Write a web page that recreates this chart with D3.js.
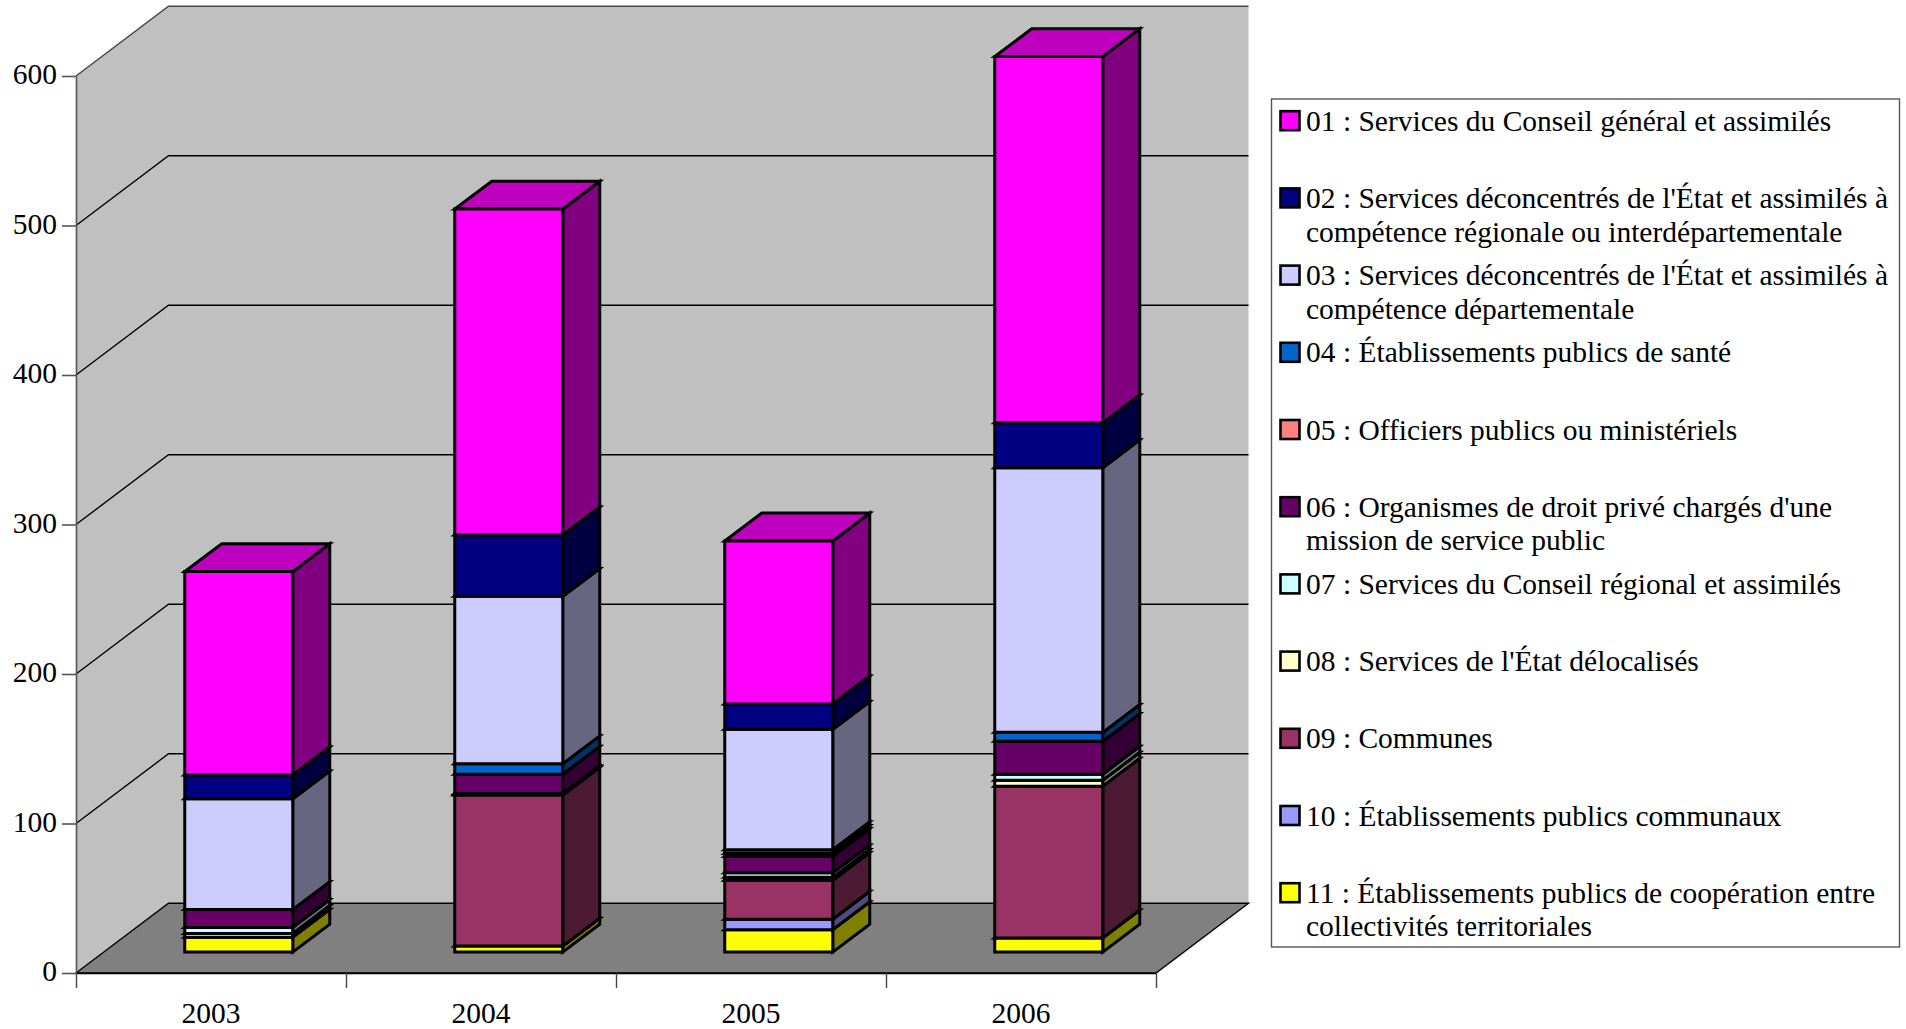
<!DOCTYPE html>
<html>
<head>
<meta charset="utf-8">
<script src="https://cdn.jsdelivr.net/npm/d3@7"></script>
<style>
html, body { margin: 0; padding: 0; background: #fff; }
svg { display: block; }
text { font-family: "Liberation Serif", serif; fill: #000; }
</style>
</head>
<body>
<svg id="chart" width="1906" height="1029"></svg>
<script>
// data
var years = ["2003", "2004", "2005", "2006"];
var yTicks = [0, 100, 200, 300, 400, 500, 600];

var codes = ["01", "02", "03", "04", "05", "06", "07", "08", "09", "10", "11"];
var colors = ["#ff00ff", "#000080", "#ccccff", "#0066cc", "#ff8080", "#660066", "#ccffff", "#ffffcc", "#993366", "#9999ff", "#ffff00"];
var legendLines = [
    ["01 : Services du Conseil général et assimilés"],
    ["02 : Services déconcentrés de l'État et assimilés à", "compétence régionale ou interdépartementale"],
    ["03 : Services déconcentrés de l'État et assimilés à", "compétence départementale"],
    ["04 : Établissements publics de santé"],
    ["05 : Officiers publics ou ministériels"],
    ["06 : Organismes de droit privé chargés d'une", "mission de service public"],
    ["07 : Services du Conseil régional et assimilés"],
    ["08 : Services de l'État délocalisés"],
    ["09 : Communes"],
    ["10 : Établissements publics communaux"],
    ["11 : Établissements publics de coopération entre", "collectivités territoriales"]
];

// one value per year, same order as years
var s01 = [136, 218, 109, 245];
var s02 = [16, 41, 17, 30];
var s03 = [74, 112, 80.5, 177];
var s04 = [0, 7, 2.5, 6];
var s05 = [0, 0, 2, 0];
var s06 = [12, 13, 11, 22];
var s07 = [4, 0.5, 3, 4];
var s08 = [2.5, 0.5, 2, 4];
var s09 = [0, 101, 26, 101.5];
var s10 = [0, 0, 7, 0];
var s11 = [10, 4, 15, 9.5];
var series = [s01, s02, s03, s04, s05, s06, s07, s08, s09, s10, s11];

// layout of the 3d box
var left = 76, right = 1156, floorY = 973, topY = 76;
var depthX = 92.5, depthY = 69.7;

var svg = d3.select("#chart");
var x = d3.scaleBand().domain(years).range([left, right]).paddingInner(0.6).paddingOuter(0.3);
var xLabel = d3.scaleBand().domain(years).range([left, right]);
var xEdge = d3.scaleLinear().domain([0, 4]).range([left, right]);
var y = d3.scaleLinear().domain([0, 600]).range([floorY, topY]);
var z = d3.scaleLinear().domain([0, 1]).range([0, 1]);

function pt(px, py, pz) {
    return [px + z(pz) * depthX, py - z(pz) * depthY];
}
function poly(sel, pts, fill, stroke, sw) {
    return sel.append("polygon")
        .attr("points", pts.map(function (p) { return p.join(","); }).join(" "))
        .attr("fill", fill)
        .attr("stroke", stroke)
        .attr("stroke-width", sw)
        .attr("stroke-linejoin", "miter");
}

// walls
var box = svg.append("g");
poly(box, [pt(left, y(600), 0), pt(left, y(600), 1), pt(right, y(600), 1), pt(right, y(0), 1), pt(left, y(0), 1), pt(left, y(0), 0)], "#c0c0c0", "none", 0);

// grid lines
yTicks.forEach(function (t) {
    if (t == 0) return;
    var a = pt(left, y(t), 0), b = pt(left, y(t), 1), c = pt(right, y(t), 1);
    box.append("polyline")
        .attr("points", [a, b, c].map(function (p) { return p.join(","); }).join(" "))
        .attr("fill", "none")
        .attr("stroke", t == 600 ? "#444" : "#000")
        .attr("stroke-width", 1.4);
});

// floor
poly(box, [pt(left, y(0), 0), pt(right, y(0), 0), pt(right, y(0), 1), pt(left, y(0), 1)], "#808080", "#000", 1.4);

// axes
var yAxis = svg.append("g")
    .attr("transform", "translate(" + left + ",0)")
    .call(d3.axisLeft(y).tickValues(yTicks).tickSize(14).tickPadding(5).tickSizeOuter(0));
yAxis.select(".domain").attr("stroke", "#555").attr("stroke-width", 1.6);
yAxis.selectAll(".tick line").attr("stroke", "#555").attr("stroke-width", 1.6);
yAxis.selectAll(".tick text").style("font-size", "29.5px").style("font-family", "'Liberation Serif', serif").attr("dy", "0.27em");

var xAxisMarks = svg.append("g")
    .attr("transform", "translate(0," + floorY + ")")
    .call(d3.axisBottom(xEdge).tickValues([0, 1, 2, 3, 4]).tickSize(15).tickFormat("").tickSizeOuter(0));
xAxisMarks.select(".domain").attr("stroke", "#000").attr("stroke-width", 1.4);
xAxisMarks.selectAll(".tick line").attr("stroke", "#444").attr("stroke-width", 1.4);

var xAxisLabels = svg.append("g")
    .attr("transform", "translate(0," + floorY + ")")
    .call(d3.axisBottom(xLabel).tickSize(0).tickPadding(29));
xAxisLabels.select(".domain").remove();
xAxisLabels.selectAll(".tick text").style("font-size", "29.5px").style("font-family", "'Liberation Serif', serif");

// stacked bars, from the bottom code up
function shade(c, k) {
    var r = d3.rgb(c);
    return d3.rgb(r.r * k, r.g * k, r.b * k).formatHex();
}
var bars = svg.append("g");
years.forEach(function (year, yi) {
    var x0 = x(year), x1 = x0 + x.bandwidth();
    var sum = 0;
    for (var i = series.length - 1; i >= 0; i--) {
        var v = series[i][yi];
        if (v == 0) continue;
        var y0 = y(sum), y1 = y(sum + v);
        sum += v;
        poly(bars, [pt(x1, y0, 0.3), pt(x1, y0, 0.7), pt(x1, y1, 0.7), pt(x1, y1, 0.3)], shade(colors[i], 0.5), "#000", 3);
        poly(bars, [pt(x0, y1, 0.3), pt(x1, y1, 0.3), pt(x1, y1, 0.7), pt(x0, y1, 0.7)], shade(colors[i], 0.75), "#000", 3);
        poly(bars, [pt(x0, y0, 0.3), pt(x1, y0, 0.3), pt(x1, y1, 0.3), pt(x0, y1, 0.3)], colors[i], "#000", 3);
    }
});

// legend
var legend = svg.append("g");
legend.append("rect")
    .attr("x", 1271.5).attr("y", 99)
    .attr("width", 628).attr("height", 848)
    .attr("fill", "#fff").attr("stroke", "#555").attr("stroke-width", 1.4);
codes.forEach(function (code, i) {
    var base = 130.7 + 77.2 * i;
    legend.append("rect")
        .attr("x", 1280.5).attr("y", base - 19.5)
        .attr("width", 19).attr("height", 19)
        .attr("fill", colors[i]).attr("stroke", "#000").attr("stroke-width", 2.6);
    legendLines[i].forEach(function (line, j) {
        legend.append("text")
            .attr("x", 1306).attr("y", base + j * 33.7)
            .style("font-size", "29.5px")
            .text(line);
    });
});
</script>
</body>
</html>
